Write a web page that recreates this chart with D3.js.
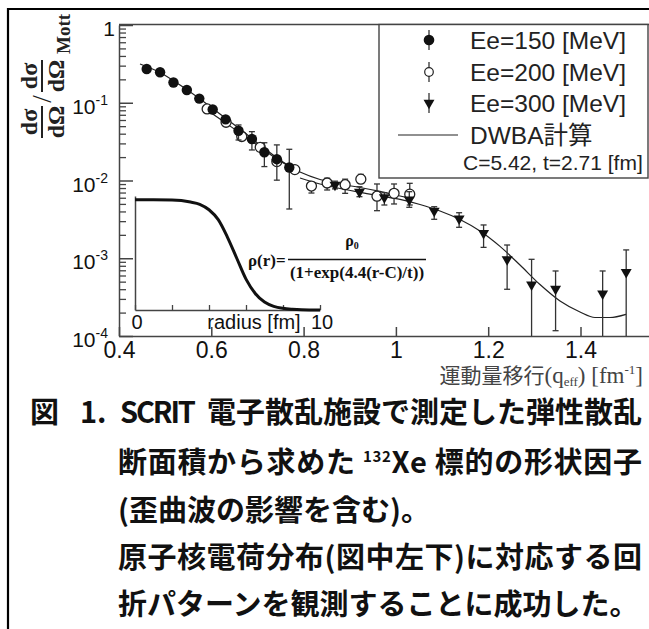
<!DOCTYPE html>
<html lang="ja">
<head>
<meta charset="utf-8">
<title>132Xe 形状因子</title>
<script src="https://d3js.org/d3.v7.min.js"></script>
<style>
  body { margin: 0; background: #fff; }
  svg { display: block; }
  .tick text { font-family: "Liberation Sans", Arial, sans-serif; }
</style>
</head>
<body>
<svg id="fig" width="649" height="629"></svg>
<script>
// Ee=150 MeV (filled circles)
const q150  = [0.460, 0.489, 0.518, 0.547, 0.574, 0.603, 0.631, 0.659, 0.688, 0.715, 0.742, 0.769];
const ff150 = [0.272, 0.247, 0.182, 0.146, 0.113, 0.0818, 0.0612, 0.0437, 0.0342, 0.0231, 0.0188, 0.0147];
const lo150 = [null, null, null, null, null, null, null, 0.0332, 0.0247, 0.0151, 0.0101, 0.0043];
const hi150 = [null, null, null, null, null, null, null, 0.0518, 0.0425, 0.0306, 0.0287, 0.0252];

// Ee=200 MeV (open circles)
const q200  = [0.591, 0.632, 0.666, 0.706, 0.742, 0.781, 0.817, 0.851, 0.890, 0.924, 0.959, 0.996, 1.030];
const ff200 = [0.0832, 0.0561, 0.0368, 0.0267, 0.0175, 0.0138, 0.00849, 0.00929, 0.00883, 0.0104, 0.00628, 0.00684, 0.00667];
const lo200 = [null, null, null, null, null, null, 0.0069, 0.00755, 0.00684, 0.0092, 0.00409, 0.00499, 0.00484];
const hi200 = [null, null, null, null, null, null, 0.0095, 0.0107, 0.0104, 0.0120, 0.00902, 0.00902, 0.00920];

// Ee=300 MeV (down triangles)
const q300  = [0.868, 0.921, 0.975, 1.029, 1.083, 1.137, 1.190, 1.241, 1.294, 1.346, 1.448, 1.499];
const ff300 = [0.00875, 0.00711, 0.00608, 0.00566, 0.00407, 0.00324, 0.00210, 0.000968, 0.000457, 0.000404, 0.000350, 0.000662];
const lo300 = [0.0078, 0.00619, 0.00484, 0.00452, 0.00317, 0.00250, 0.00138, 0.000399, 0.00001, 0.000117, 0.00001, 0.00001];
const hi300 = [0.0098, 0.00832, 0.00697, 0.00718, 0.00460, 0.00385, 0.00268, 0.00148, 0.000969, 0.000686, 0.000686, 0.00128];

// DWBA curves (one per beam energy)
const qCalc150 = [0.4455, 0.4888, 0.5322, 0.5755, 0.6188, 0.6622, 0.7055, 0.7489, 0.7835];
const fCalc150 = [0.315, 0.245, 0.169, 0.1117, 0.0716, 0.0459, 0.0287, 0.0184, 0.01365];
const qCalc200 = [0.5842, 0.6188, 0.6622, 0.7055, 0.7489, 0.7922, 0.8355, 0.8789, 0.9222, 0.9655, 1.0089, 1.0349];
const fCalc200 = [0.0855, 0.0618, 0.0408, 0.0270, 0.0178, 0.01285, 0.01030, 0.00902, 0.00813, 0.00723, 0.00632, 0.00586];
const qCalc300 = [0.7922, 0.8355, 0.8789, 0.9222, 0.9655, 1.0089, 1.0522, 1.0956, 1.1389, 1.1822, 1.2256, 1.2689, 1.3122, 1.3556, 1.3989, 1.4314, 1.4639, 1.4986];
const fCalc300 = [0.01076, 0.00902, 0.00789, 0.00702, 0.00632, 0.00571, 0.00491, 0.00406, 0.00315, 0.00224, 0.00142, 0.000818, 0.000459, 0.000282, 0.000204, 0.000173, 0.000173, 0.000190];

// inset: charge distribution
const radius = [0, 1, 2, 3, 3.5, 4, 4.5, 5, 5.5, 6, 6.5, 7, 7.5, 8, 8.5, 9, 10];
const rho    = [1, 1, 0.998, 0.98, 0.96, 0.91, 0.82, 0.66, 0.47, 0.28, 0.15, 0.072, 0.033, 0.015, 0.007, 0.003, 0.001];

const xTicks = [0.4, 0.6, 0.8, 1.0, 1.2, 1.4];
const yMajor = [1, 1e-1, 1e-2, 1e-3, 1e-4];
const yExp   = ["", "-1", "-2", "-3", "-4"];
const legendLabels = ["Ee=150 [MeV]", "Ee=200 [MeV]", "Ee=300 [MeV]", "DWBA計算"];
const captionHead = ["図", "1.", "SCRIT", "電子散乱施設で測定した弾性散乱"];
const captionLines = [
  "断面積から求めた",
  "(歪曲波の影響を含む)。",
  "原子核電荷分布(図中左下)に対応する回",
  "折パターンを観測することに成功した。"
];

const SANS = '"Liberation Sans", Arial, "Noto Sans CJK JP", sans-serif';
const SERIF = '"Liberation Serif", "Times New Roman", "Noto Sans CJK JP", serif';
const CJK = '"Noto Sans CJK JP", sans-serif';

const svg = d3.select("#fig");

// scales
const x = d3.scaleLinear().domain([0.4, 1.56]).range([119, 119 + 1.16 * 461.5]);
const y = d3.scaleLog().domain([1e-4, 1]).range([336, 25]);

svg.append("clipPath").attr("id", "plotClip")
  .append("rect").attr("x", 119).attr("y", 25).attr("width", 540).attr("height", 311);

// outer frame
svg.append("path").attr("d", "M8,629V9H649").attr("fill", "none").attr("stroke", "#000").attr("stroke-width", 2.2);

// top border of plot
svg.append("line").attr("x1", 119).attr("x2", 649).attr("y1", 24.5).attr("y2", 24.5)
  .attr("stroke", "#444").attr("stroke-width", 1.5);

// y axis: minor + major ticks
const yMinor = [];
[1e-4, 1e-3, 1e-2, 1e-1].forEach(d => { for (let k = 2; k <= 9; k++) yMinor.push(d * k); });
svg.append("g").attr("transform", "translate(119,0)")
  .call(d3.axisLeft(y).tickValues(yMinor).tickSizeInner(-7).tickSizeOuter(0).tickFormat(""))
  .call(g => g.select(".domain").remove())
  .selectAll("line").attr("stroke", "#444").attr("stroke-width", 1.3);
svg.append("g").attr("transform", "translate(119,0)")
  .call(d3.axisLeft(y).tickValues(yMajor).tickSizeInner(-14).tickSizeOuter(0).tickFormat(""))
  .call(g => g.select(".domain").attr("stroke", "#444").attr("stroke-width", 1.5))
  .selectAll("line").attr("stroke", "#444").attr("stroke-width", 1.5);

// y tick labels (10^n)
yMajor.forEach((v, i) => {
  const t = svg.append("text").attr("x", i === 0 ? 115 : 108).attr("y", y(v) + 11)
    .attr("text-anchor", "end").attr("font-family", SANS).attr("font-size", 21).attr("fill", "#111");
  if (i === 0) { t.text("1"); return; }
  t.append("tspan").text("10");
  t.append("tspan").attr("dy", -9).attr("font-size", 14).text(yExp[i]);
});

// x axis
svg.append("g").attr("transform", "translate(0,336)")
  .call(d3.axisBottom(x).tickValues(xTicks).tickSizeInner(-9).tickSizeOuter(0).tickPadding(6)
    .tickFormat(d => d === 1 ? "1" : d.toFixed(1)))
  .call(g => g.select(".domain").attr("stroke", "#444").attr("stroke-width", 1.5))
  .call(g => g.selectAll("line").attr("stroke", "#444").attr("stroke-width", 1.5))
  .call(g => g.selectAll("text").attr("font-size", 23).attr("fill", "#111"));

// x axis title
const xt = svg.append("text").attr("x", 643).attr("y", 383).attr("text-anchor", "end")
  .attr("font-family", SERIF).attr("font-size", 23).attr("fill", "#444");
xt.append("tspan").attr("font-family", CJK).attr("font-size", 21).text("運動量移行");
xt.append("tspan").text("(q");
xt.append("tspan").attr("dy", 3).attr("font-size", 13).text("eff");
xt.append("tspan").attr("dy", -3).text(") [fm");
xt.append("tspan").attr("dy", -9).attr("font-size", 13).text("-1");
xt.append("tspan").attr("dy", 9).text("]");

// y axis title (rotated fraction)
const yl = svg.append("g").attr("transform", "translate(42,138) rotate(-90)")
  .attr("font-family", SERIF).attr("font-weight", "bold").attr("fill", "#222");
[[16, 0], [62, 46]].forEach(([cx, x0]) => {
  yl.append("text").attr("x", cx).attr("y", -5).attr("text-anchor", "middle").attr("font-size", 24).text("dσ");
  yl.append("text").attr("x", cx).attr("y", 22).attr("text-anchor", "middle").attr("font-size", 24).text("dΩ");
  yl.append("line").attr("x1", x0).attr("x2", x0 + 32).attr("y1", 0).attr("y2", 0)
    .attr("stroke", "#222").attr("stroke-width", 2);
});
yl.append("text").attr("x", 39).attr("y", 9).attr("text-anchor", "middle").attr("font-size", 27).attr("font-weight", "normal").text("/");
yl.append("text").attr("x", 84).attr("y", 28).attr("font-size", 19).text("Mott");

// inset: charge distribution
const xr = d3.scaleLinear().domain([0, 10]).range([135, 320]);
const yr = d3.scaleLinear().domain([0, 1.035]).range([310, 196]);
svg.append("g").attr("transform", "translate(0,310)")
  .call(d3.axisBottom(xr).tickValues([0, 2, 4, 6, 8, 10]).tickSizeInner(-5).tickSizeOuter(0).tickFormat(""))
  .call(g => g.select(".domain").attr("stroke", "#444").attr("stroke-width", 1.5))
  .call(g => g.selectAll("line").attr("stroke", "#444").attr("stroke-width", 1.3));
svg.append("g").attr("transform", "translate(135,0)")
  .call(d3.axisLeft(yr).tickValues([]).tickSizeOuter(0))
  .call(g => g.select(".domain").attr("stroke", "#444").attr("stroke-width", 1.5));
svg.append("path")
  .attr("d", d3.line().curve(d3.curveMonotoneX).x((d, i) => xr(radius[i])).y(d => yr(d))(rho))
  .attr("fill", "none").attr("stroke", "#111").attr("stroke-width", 3);
[[0, "0"], [10, "10"]].forEach(([v, s]) => {
  svg.append("text").attr("x", xr(v) + 2).attr("y", 329).attr("text-anchor", "middle")
    .attr("font-family", SANS).attr("font-size", 20).attr("fill", "#111").text(s);
});
svg.append("text").attr("x", 254).attr("y", 329).attr("text-anchor", "middle")
  .attr("font-family", SANS).attr("font-size", 20).attr("fill", "#111").text("radius [fm]");

// formula
const fm = svg.append("g").attr("font-family", SERIF).attr("font-weight", "bold").attr("fill", "#111");
fm.append("text").attr("x", 248).attr("y", 266).attr("font-size", 17).text("ρ(r)=");
const num = fm.append("text").attr("x", 352).attr("y", 246).attr("text-anchor", "middle").attr("font-size", 16);
num.append("tspan").text("ρ");
num.append("tspan").attr("dy", 3).attr("font-size", 10).text("0");
fm.append("line").attr("x1", 288).attr("x2", 426).attr("y1", 259.5).attr("y2", 259.5)
  .attr("stroke", "#111").attr("stroke-width", 1.5);
fm.append("text").attr("x", 357).attr("y", 278).attr("text-anchor", "middle").attr("font-size", 17)
  .text("(1+exp(4.4(r-C)/t))");

// data layer
const plot = svg.append("g").attr("clip-path", "url(#plotClip)");
const lineGen = d3.line().curve(d3.curveMonotoneX).x(d => x(d[0])).y(d => y(d[1]));
[[qCalc150, fCalc150], [qCalc200, fCalc200], [qCalc300, fCalc300]].forEach(([qs, fs]) => {
  plot.append("path").attr("d", lineGen(qs.map((q, i) => [q, fs[i]])))
    .attr("fill", "none").attr("stroke", "#222").attr("stroke-width", 1.2);
});

function errorBars(qs, lo, hi) {
  qs.forEach((q, i) => {
    if (lo[i] == null) return;
    const px = x(q), yTop = y(hi[i]), yBot = y(Math.max(lo[i], 1e-4));
    plot.append("line").attr("x1", px).attr("x2", px).attr("y1", yTop).attr("y2", yBot)
      .attr("stroke", "#333").attr("stroke-width", 1.3);
    plot.append("line").attr("x1", px - 3).attr("x2", px + 3).attr("y1", yTop).attr("y2", yTop)
      .attr("stroke", "#333").attr("stroke-width", 1.3);
    if (lo[i] >= 1e-4)
      plot.append("line").attr("x1", px - 3).attr("x2", px + 3).attr("y1", yBot).attr("y2", yBot)
        .attr("stroke", "#333").attr("stroke-width", 1.3);
  });
}

// 200 MeV
errorBars(q200, lo200, hi200);
plot.selectAll("circle.e200").data(ff200).join("circle").attr("class", "e200")
  .attr("cx", (d, i) => x(q200[i])).attr("cy", d => y(d)).attr("r", 5)
  .attr("fill", "#fff").attr("stroke", "#222").attr("stroke-width", 1.3);

// 300 MeV
errorBars(q300, lo300, hi300);
const tri = d3.symbol().type(d3.symbolTriangle).size(52);
plot.selectAll("path.e300").data(ff300).join("path").attr("class", "e300")
  .attr("d", tri)
  .attr("transform", (d, i) => `translate(${x(q300[i])},${y(d)}) rotate(180)`)
  .attr("fill", "#111");

// 150 MeV
errorBars(q150, lo150, hi150);
plot.selectAll("circle.e150").data(ff150).join("circle").attr("class", "e150")
  .attr("cx", (d, i) => x(q150[i])).attr("cy", d => y(d)).attr("r", 5.2)
  .attr("fill", "#111");

// legend
const lg = svg.append("g");
lg.append("rect").attr("x", 379).attr("y", 24.5).attr("width", 269).attr("height", 153.5)
  .attr("fill", "#fff").attr("stroke", "#444").attr("stroke-width", 1.4);
const rowsY = [40, 72, 103, 135];
[0, 1, 2].forEach(i => {
  lg.append("line").attr("x1", 429).attr("x2", 429).attr("y1", rowsY[i] - 10).attr("y2", rowsY[i] + 10)
    .attr("stroke", "#333").attr("stroke-width", 1.3);
});
lg.append("circle").attr("cx", 429).attr("cy", rowsY[0]).attr("r", 5.3).attr("fill", "#111");
lg.append("circle").attr("cx", 429).attr("cy", rowsY[1]).attr("r", 4.3).attr("fill", "#fff")
  .attr("stroke", "#222").attr("stroke-width", 1.2);
lg.append("path").attr("d", tri).attr("transform", `translate(429,${rowsY[2]}) rotate(180)`).attr("fill", "#111");
lg.append("line").attr("x1", 398).attr("x2", 458).attr("y1", rowsY[3]).attr("y2", rowsY[3])
  .attr("stroke", "#222").attr("stroke-width", 1.2);
legendLabels.forEach((s, i) => {
  lg.append("text").attr("x", 470).attr("y", rowsY[i] + 8.5).attr("font-family", SANS)
    .attr("font-size", 24.5).attr("fill", "#222").text(s);
});
lg.append("text").attr("x", 463).attr("y", 170).attr("font-family", SANS)
  .attr("font-size", 21).attr("fill", "#222").text("C=5.42, t=2.71 [fm]");

// caption
const cap = svg.append("g").attr("font-family", CJK).attr("font-weight", "bold")
  .attr("font-size", 29).attr("fill", "#111");
[[30, null], [80, null], [120, 76], [207, 435]].forEach(([x0, len], i) => {
  const t = cap.append("text").attr("x", x0).attr("y", 423).text(captionHead[i]);
  if (len) t.attr("textLength", len).attr("lengthAdjust", "spacing");
});
const c2 = cap.append("text").attr("x", 118).attr("y", 473).attr("textLength", 524).attr("lengthAdjust", "spacing");
c2.append("tspan").text(captionLines[0] + " ");
c2.append("tspan").attr("dy", -11).attr("font-size", 15).text("132");
c2.append("tspan").attr("dy", 11).text("Xe 標的の形状因子");
cap.append("text").attr("x", 118).attr("y", 521).text(captionLines[1]);
cap.append("text").attr("x", 118).attr("y", 568).attr("textLength", 524).attr("lengthAdjust", "spacing")
  .text(captionLines[2]);
cap.append("text").attr("x", 118).attr("y", 615).text(captionLines[3]);
</script>
</body>
</html>
